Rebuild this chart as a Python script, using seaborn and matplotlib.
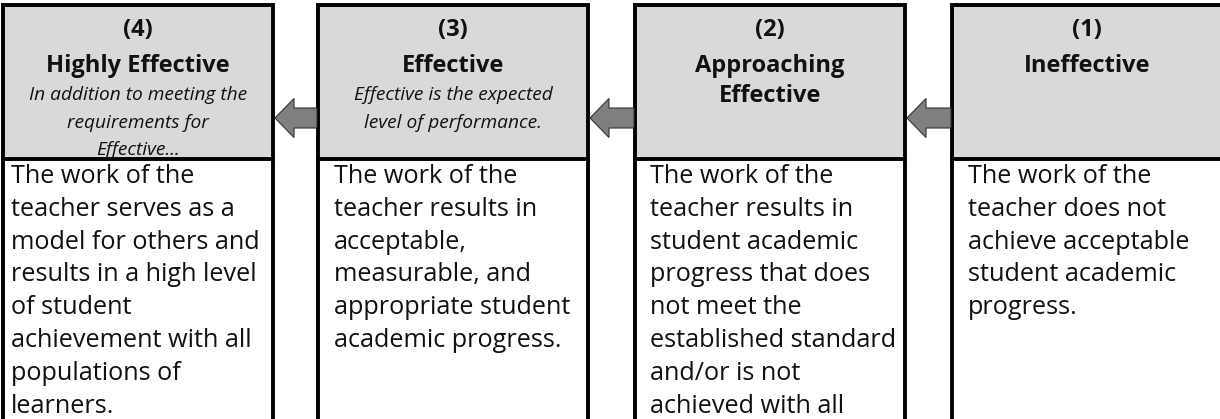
import matplotlib
matplotlib.use("Agg")
import matplotlib.pyplot as plt
import matplotlib.patches as mpatches
import seaborn as sns

# rubric levels, right to left on the page is (1) -> (4)
levels = ["(4)", "(3)", "(2)", "(1)"]
titles = [["Highly Effective"],
          ["Effective"],
          ["Approaching", "Effective"],
          ["Ineffective"]]
subtitles = [["In addition to meeting the", "requirements for", "Effective..."],
             ["Effective is the expected", "level of performance."],
             [],
             []]
bodies = [["The work of the", "teacher serves as a", "model for others and",
           "results in a high level", "of student", "achievement with all",
           "populations of", "learners."],
          ["The work of the", "teacher results in", "acceptable,",
           "measurable, and", "appropriate student", "academic progress."],
          ["The work of the", "teacher results in", "student academic",
           "progress that does", "not meet the", "established standard",
           "and/or is not", "achieved with all"],
          ["The work of the", "teacher does not", "achieve acceptable",
           "student academic", "progress."]]

sns.set_theme(style="white")
plt.rcParams['font.family'] = ['Open Sans', 'DejaVu Sans']

W, H = 1220, 419
fig = plt.figure(figsize=(12.2, 4.19), dpi=100)
ax = fig.add_axes([0, 0, 1, 1])
ax.set_xlim(0, W)
ax.set_ylim(H, 0)
ax.axis("off")

lefts = [3, 318, 635, 952]
box_w = 270
top, head_bottom = 5, 159
pads = [8, 16, 15, 16]
header_col = "#d9d9d9"
arrow_col = "#7f7f7f"
lw = 2.8

for i, left in enumerate(lefts):
    right = left + box_w if i < 3 else W + 10
    cx = left + box_w / 2
    # grey header block
    ax.add_patch(mpatches.Rectangle((left, top), right - left, head_bottom - top,
                                    facecolor=header_col, edgecolor="black", lw=lw,
                                    zorder=1))
    # sides of the white body, running off the bottom
    ax.plot([left, left], [head_bottom, H + 5], color="black", lw=lw,
            solid_capstyle="butt", zorder=2)
    if i < 3:
        ax.plot([right, right], [head_bottom, H + 5], color="black", lw=lw,
                solid_capstyle="butt", zorder=2)

    ax.text(cx, 36, levels[i], ha="center", va="baseline", fontsize=17,
            fontweight="bold", color="#111111")
    for j, t in enumerate(titles[i]):
        ax.text(cx, 72 + 30 * j, t, ha="center", va="baseline", fontsize=17,
                fontweight="bold", color="#111111")
    for j, t in enumerate(subtitles[i]):
        ax.text(cx, 100 + 27.5 * j, t, ha="center", va="baseline", fontsize=13.8,
                fontstyle="italic", color="#111111")
    for j, t in enumerate(bodies[i]):
        ax.text(left + pads[i], 183 + 32.8 * j, t, ha="left", va="baseline",
                fontsize=18.2, color="#111111")

# arrows pointing from each box to the one on its left
for i in range(1, 4):
    tail = lefts[i] - 1
    tip = lefts[i - 1] + box_w + 2
    ax.add_patch(mpatches.FancyArrow(tail, 118, tip - tail, 0, width=20,
                                     head_width=39, head_length=19,
                                     length_includes_head=True,
                                     facecolor=arrow_col, edgecolor="#333333",
                                     lw=0.8, zorder=3))

fig.savefig("out.png", dpi=100)
